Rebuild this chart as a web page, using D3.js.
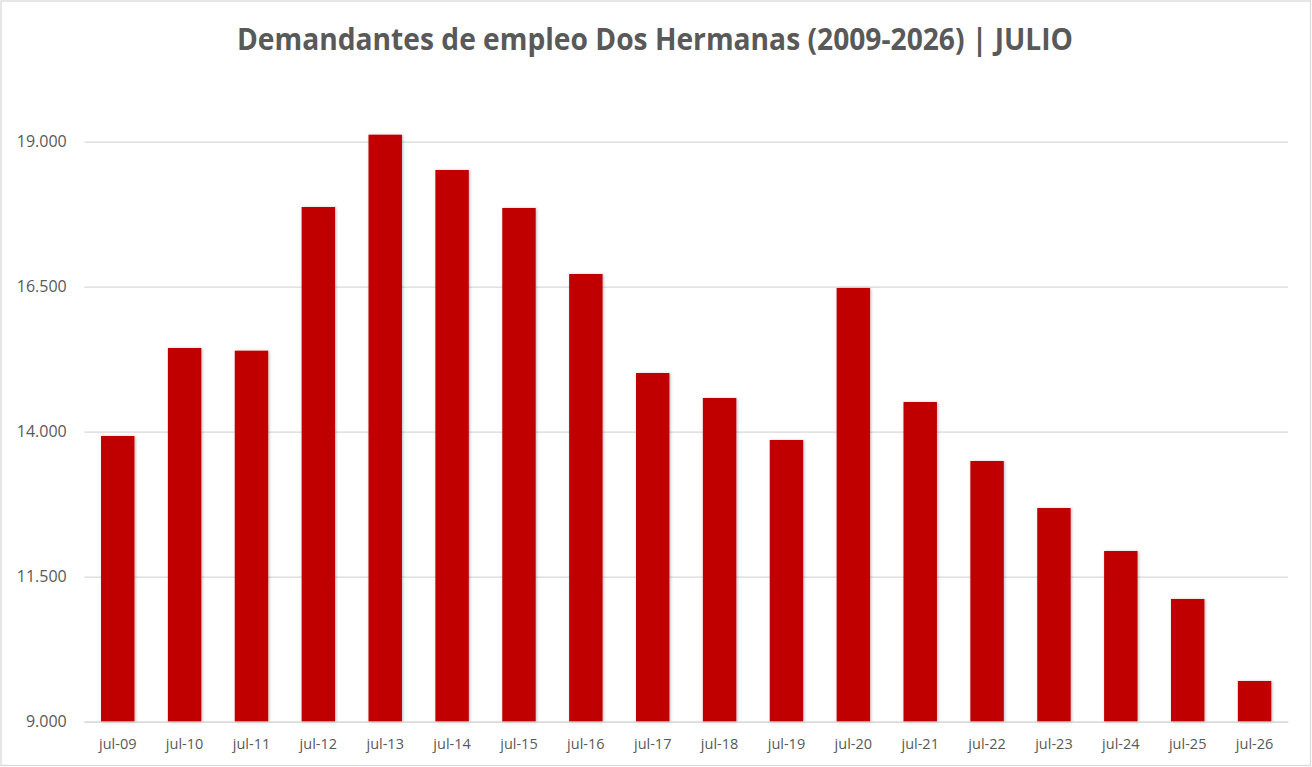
<!DOCTYPE html>
<html>
<head>
<meta charset="utf-8">
<script src="https://cdn.jsdelivr.net/npm/d3@7"></script>
<style>
  html, body { margin: 0; padding: 0; background: #fff; }
  svg { display: block; }
</style>
</head>
<body>
<svg id="svg"></svg>
<script>
// datos
let labels = ["jul-09","jul-10","jul-11","jul-12","jul-13","jul-14","jul-15","jul-16","jul-17",
              "jul-18","jul-19","jul-20","jul-21","jul-22","jul-23","jul-24","jul-25","jul-26"];
let values = [13926, 15443, 15397, 17874, 19121, 18512, 17857, 16719, 15012,
              14581, 13857, 16478, 14512, 13495, 12684, 11943, 11116, 9702];
let yTicks = [9000, 11500, 14000, 16500, 19000];
let yDomain = [9000, 20000];
let title = "Demandantes de empleo Dos Hermanas (2009-2026) | JULIO";

let width = 1312, height = 767;
let margin = { top: 83.7, right: 24, bottom: 45.3, left: 84.3 };
let innerW = width - margin.left - margin.right;
let innerH = height - margin.top - margin.bottom;

let fmt = d3.formatLocale({ decimal: ",", thousands: ".", grouping: [3], currency: ["", "€"] }).format(",");

let svg = d3.select("#svg").attr("width", width).attr("height", height);

// sombra suave de las barras
let defs = svg.append("defs");
defs.append("filter").attr("id", "shadow")
    .attr("x", "-20%").attr("y", "-5%").attr("width", "140%").attr("height", "110%")
  .append("feDropShadow")
    .attr("dx", 1).attr("dy", 0.5).attr("stdDeviation", 1.4)
    .attr("flood-color", "#000").attr("flood-opacity", 0.28);

// borde del área del gráfico
svg.append("rect")
    .attr("x", 1).attr("y", 1)
    .attr("width", width - 2.5).attr("height", height - 2.5)
    .attr("fill", "#fff").attr("stroke", "#d9d9d9").attr("stroke-width", 1.3);

let xScale = d3.scaleBand().domain(labels).range([0, innerW]).paddingInner(0.5).paddingOuter(0.25);
let yScale = d3.scaleLinear().domain(yDomain).range([innerH, 0]);

let g = svg.append("g").attr("transform", `translate(${margin.left}, ${margin.top})`);

// líneas de cuadrícula
let grid = g.append("g")
    .call(d3.axisLeft(yScale).tickValues(yTicks).tickSize(-innerW).tickFormat(""));
grid.select(".domain").remove();
grid.selectAll("line").attr("stroke", "#d9d9d9").attr("stroke-width", 1.2);

// barras
g.append("g").selectAll("rect")
    .data(values)
    .join("rect")
    .attr("x", (d, i) => xScale(labels[i]))
    .attr("y", d => yScale(d))
    .attr("width", xScale.bandwidth())
    .attr("height", d => innerH - yScale(d))
    .attr("fill", "#c00000")
    .attr("filter", "url(#shadow)");

// eje x
let xAxis = g.append("g")
    .attr("transform", `translate(0, ${innerH})`)
    .call(d3.axisBottom(xScale).tickSize(0).tickPadding(0));
xAxis.select(".domain").attr("stroke", "#d9d9d9").attr("stroke-width", 1.2);
xAxis.selectAll("text")
    .attr("y", 27.5).attr("dy", 0)
    .attr("fill", "#595959")
    .style("font-family", "'Open Sans', 'Noto Sans', sans-serif")
    .style("font-size", "14.5px");

// eje y
let yAxis = g.append("g")
    .call(d3.axisLeft(yScale).tickValues(yTicks).tickSize(0).tickPadding(17.6).tickFormat(fmt));
yAxis.select(".domain").remove();
yAxis.selectAll("text")
    .attr("fill", "#595959")
    .style("font-family", "'Open Sans', 'Noto Sans', sans-serif")
    .style("font-size", "16px");

// título
svg.append("text")
    .attr("x", 655).attr("y", 50)
    .attr("text-anchor", "middle")
    .attr("fill", "#595959")
    .style("font-family", "'Open Sans', 'Noto Sans', sans-serif")
    .style("font-weight", "bold")
    .style("font-size", "30px")
    .attr("textLength", 836)
    .attr("lengthAdjust", "spacingAndGlyphs")
    .text(title);
</script>
</body>
</html>
